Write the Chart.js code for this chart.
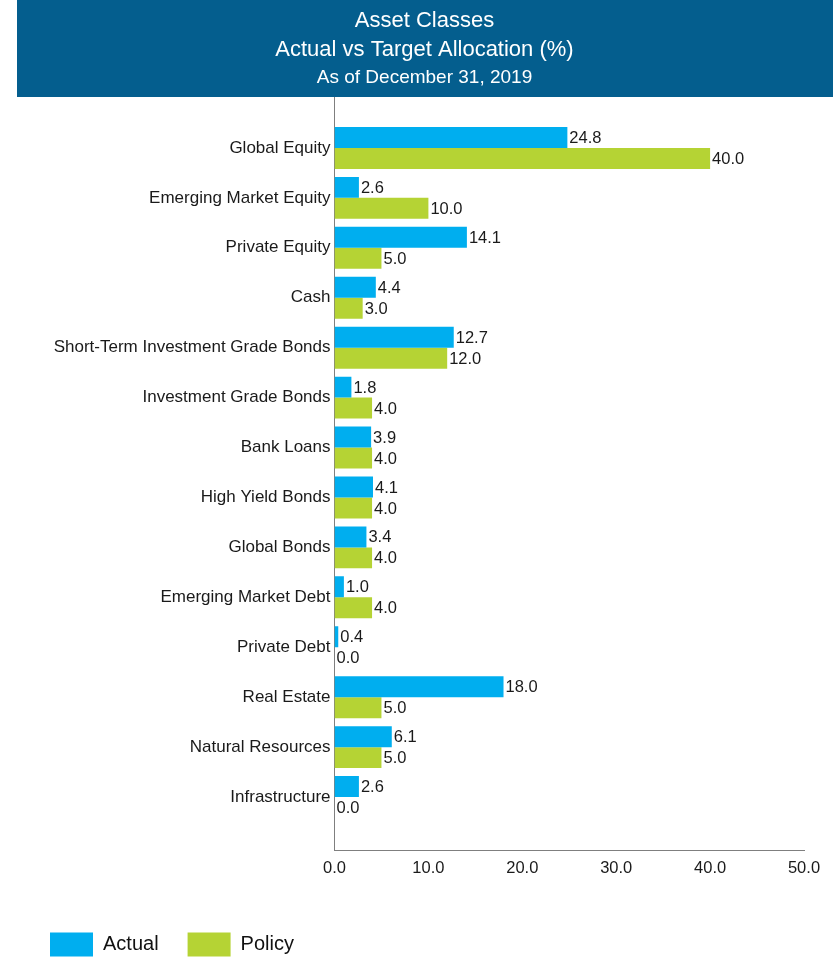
<!DOCTYPE html>
<html>
<head>
<meta charset="utf-8">
<script src="https://cdn.jsdelivr.net/npm/chart.js@4"></script>
<style>
  html, body { margin: 0; padding: 0; background: #ffffff; }
  canvas { display: block; }
</style>
</head>
<body>
<canvas id="c" width="840" height="961"></canvas>
<script>
const categories = [
  'Global Equity', 'Emerging Market Equity', 'Private Equity', 'Cash',
  'Short-Term Investment Grade Bonds', 'Investment Grade Bonds', 'Bank Loans',
  'High Yield Bonds', 'Global Bonds', 'Emerging Market Debt', 'Private Debt',
  'Real Estate', 'Natural Resources', 'Infrastructure'
];
const actualValues = [24.8, 2.6, 14.1, 4.4, 12.7, 1.8, 3.9, 4.1, 3.4, 1.0, 0.4, 18.0, 6.1, 2.6];
const policyValues = [40.0, 10.0, 5.0, 3.0, 12.0, 4.0, 4.0, 4.0, 4.0, 4.0, 0.0, 5.0, 5.0, 0.0];
const xTickValues = [0, 10, 20, 30, 40, 50];
const titleLines = ['Asset Classes', 'Actual vs Target Allocation (%)'];
const subtitleText = 'As of December 31, 2019';
const seriesNames = ['Actual', 'Policy'];

const FONT = "'Liberation Sans', Arial, sans-serif";
Chart.defaults.font.family = FONT;

const bannerPlugin = {
  id: 'banner',
  beforeDraw(chart) {
    const ctx = chart.ctx;
    ctx.save();
    ctx.fillStyle = '#045E8E';
    ctx.fillRect(17, 0, 816, 97);
    ctx.restore();
  }
};

const valueLabels = {
  id: 'valueLabels',
  afterDatasetsDraw(chart) {
    const ctx = chart.ctx;
    ctx.save();
    ctx.font = '16.5px ' + FONT;
    ctx.fillStyle = '#1a1a1a';
    ctx.textAlign = 'left';
    ctx.textBaseline = 'middle';
    chart.data.datasets.forEach((ds, di) => {
      const meta = chart.getDatasetMeta(di);
      meta.data.forEach((el, i) => {
        const v = ds.data[i].x;
        ctx.fillText(v.toFixed(1), el.x + 2, el.y + 1);
      });
    });
    ctx.restore();
  }
};

const toPoints = vals => vals.map((v, i) => ({ x: v, y: i }));

new Chart(document.getElementById('c'), {
  type: 'bar',
  data: {
    datasets: [
      { label: seriesNames[0], data: toPoints(actualValues), backgroundColor: '#00AEEF', borderWidth: 0, yAxisID: 'y' },
      { label: seriesNames[1], data: toPoints(policyValues), backgroundColor: '#B5D334', borderWidth: 0, yAxisID: 'y' }
    ]
  },
  plugins: [bannerPlugin, valueLabels],
  options: {
    indexAxis: 'y',
    responsive: false,
    animation: false,
    events: [],
    categoryPercentage: 0.84,
    barPercentage: 1.0,
    layout: { padding: { left: 21, right: 12, top: 0, bottom: 0 } },
    scales: {
      x: {
        type: 'linear',
        position: 'bottom',
        min: 0,
        max: 50,
        afterBuildTicks: s => { s.ticks = xTickValues.map(v => ({ value: v })); },
        afterFit: s => { s.height = 53.5; },
        ticks: {
          callback: v => Number(v).toFixed(1),
          font: { size: 16.5 },
          color: '#1a1a1a',
          padding: 9,
          maxRotation: 0
        },
        grid: { display: false, drawTicks: false },
        border: { display: true, color: '#7f7f7f', width: 1 }
      },
      y: {
        type: 'linear',
        position: 'left',
        reverse: true,
        offset: false,
        min: -1.02,
        max: 14.06,
        afterBuildTicks: s => { s.ticks = categories.map((_, i) => ({ value: i })); },
        afterFit: s => { s.width = 313.5; },
        ticks: {
          callback: v => categories[v],
          font: { size: 17 },
          color: '#1a1a1a',
          padding: 4,
          autoSkip: false
        },
        grid: { display: false, drawTicks: false, offset: false },
        border: { display: true, color: '#7f7f7f', width: 1 }
      },
      yr: {
        type: 'linear',
        position: 'right',
        display: true,
        ticks: { display: false },
        grid: { display: false, drawTicks: false },
        border: { display: false },
        afterFit: s => { s.width = 24; }
      }
    },
    plugins: {
      title: {
        display: true,
        text: titleLines,
        color: '#ffffff',
        font: { size: 22, weight: 'normal', lineHeight: 29 / 22 },
        padding: { top: 6, bottom: 0 }
      },
      subtitle: {
        display: true,
        text: subtitleText,
        color: '#ffffff',
        font: { size: 19, weight: 'normal', lineHeight: 1.2 },
        padding: { top: 2, bottom: 8.2 }
      },
      legend: {
        display: true,
        position: 'bottom',
        align: 'start',
        maxHeight: 57.5,
        labels: {
          boxWidth: 43,
          boxHeight: 24,
          padding: 29,
          color: '#111111',
          font: { size: 20 }
        }
      },
      tooltip: { enabled: false }
    }
  }
});
</script>
</body>
</html>
